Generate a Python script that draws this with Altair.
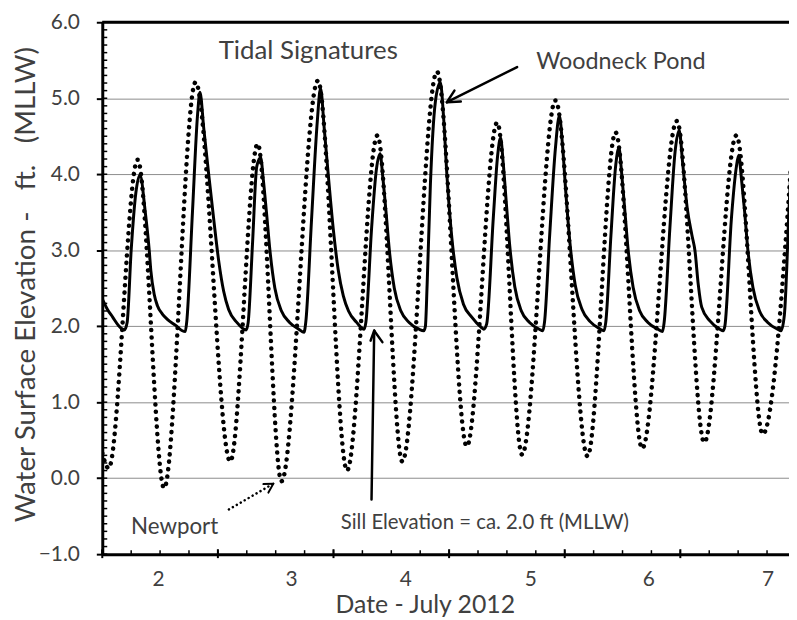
import altair as alt
import pandas as pd

# ---- data ----
# Newport tide (dotted), time in days of July 2012
nep_t = [2.000, 2.055, 2.306, 2.535, 2.807, 3.107, 3.344, 3.550, 3.865, 4.117, 4.380, 4.595,
         4.895, 5.153, 5.416, 5.631, 5.920, 6.197, 6.440, 6.670, 6.970, 7.207, 7.485, 7.713, 7.957]
nep_v = [0.33, 0.13, 4.19, -0.13, 5.21, 0.22, 4.40, -0.04, 5.23, 0.10, 4.51, 0.22,
         5.35, 0.42, 4.68, 0.31, 4.97, 0.29, 4.55, 0.39, 4.70, 0.47, 4.51, 0.58, 4.10]

# Woodneck Pond (solid)
wood_t = [2.000, 2.045, 2.090, 2.140, 2.191,
          2.215, 2.250, 2.290, 2.326,
          2.372, 2.406, 2.420, 2.449, 2.477, 2.520, 2.563, 2.635, 2.692, 2.718,
          2.730, 2.780, 2.825, 2.845,
          2.878, 2.921, 2.966, 3.007, 3.050, 3.093, 3.164, 3.245,
          3.262, 3.300, 3.336, 3.370,
          3.393, 3.420, 3.450, 3.493, 3.550, 3.620, 3.700, 3.745,
          3.760, 3.810, 3.860, 3.888,
          3.920, 3.960, 4.000, 4.040, 4.085, 4.130, 4.200, 4.266,
          4.280, 4.330, 4.370, 4.403,
          4.426, 4.454, 4.483, 4.526, 4.583, 4.654, 4.740, 4.781,
          4.795, 4.810, 4.838, 4.881, 4.924,
          4.953, 4.981, 5.024, 5.067, 5.124, 5.196, 5.282, 5.300,
          5.325, 5.382, 5.420, 5.445,
          5.468, 5.496, 5.525, 5.568, 5.625, 5.696, 5.780, 5.811,
          5.825, 5.870, 5.920, 5.954,
          5.980, 6.010, 6.045, 6.090, 6.150, 6.220, 6.300, 6.340,
          6.355, 6.400, 6.440, 6.469,
          6.492, 6.520, 6.549, 6.592, 6.649, 6.720, 6.806, 6.846,
          6.860, 6.910, 6.955, 6.990,
          7.020, 7.060, 7.100, 7.127, 7.155, 7.185, 7.256, 7.342, 7.370,
          7.385, 7.442, 7.485, 7.505,
          7.528, 7.556, 7.585, 7.628, 7.685, 7.756, 7.842, 7.871,
          7.900, 7.943, 7.957]
wood_v = [2.36, 2.22, 2.12, 2.01, 1.95,
          2.05, 3.00, 3.75, 3.99,
          3.50, 3.00, 2.73, 2.42, 2.27, 2.16, 2.09, 2.01, 1.94, 1.93,
          2.05, 3.50, 4.80, 5.08,
          4.60, 3.99, 3.38, 2.86, 2.46, 2.22, 2.05, 1.95,
          2.05, 3.10, 4.10, 4.22,
          3.93, 3.50, 3.00, 2.50, 2.20, 2.05, 1.96, 1.92,
          2.05, 3.40, 4.70, 5.13,
          4.60, 3.90, 3.25, 2.75, 2.40, 2.20, 2.05, 1.96,
          2.05, 3.30, 4.05, 4.27,
          3.97, 3.51, 3.00, 2.50, 2.20, 2.05, 1.96, 1.94,
          2.00, 2.55, 3.86, 4.95, 5.21,
          4.73, 3.99, 3.16, 2.64, 2.29, 2.12, 1.98, 1.96,
          2.03, 3.42, 4.25, 4.48,
          4.15, 3.60, 3.05, 2.52, 2.20, 2.05, 1.96, 1.94,
          2.05, 3.20, 4.35, 4.77,
          4.40, 3.75, 3.10, 2.55, 2.22, 2.06, 1.97, 1.94,
          2.05, 3.20, 4.10, 4.35,
          4.02, 3.52, 3.00, 2.51, 2.20, 2.05, 1.96, 1.93,
          2.05, 3.30, 4.30, 4.58,
          4.15, 3.55, 3.20, 2.99, 2.55, 2.25, 2.07, 1.96, 1.94,
          2.00, 3.42, 4.10, 4.25,
          3.95, 3.51, 2.99, 2.51, 2.20, 2.05, 1.96, 1.94,
          2.15, 3.64, 4.08]

# axis values
y_major = [-1, 0, 1, 2, 3, 4, 5, 6]
y_minor = [round(-1 + 0.1 * i, 1) for i in range(71)]
x_major = [2, 3, 4, 5, 6, 7]
x_minor = [2 + 0.25 * i for i in range(24)]
x_label_pos = [2.483, 3.633, 4.621, 5.703, 6.724, 7.754]   # where the day labels sit

# annotations
title_text = ["Tidal Signatures"]
title_t = [3.007]
title_v = [5.51]
pond_text = ["Woodneck Pond"]
pond_t = [5.754]
pond_v = [5.383]
newport_text = ["Newport"]
newport_t = [2.249]
newport_v = [-0.739]
sill_text = ["Sill Elevation = ca. 2.0 ft (MLLW)"]
sill_t = [4.063]
sill_v = [-0.673]

# solid arrows: shaft + barbs (t, v, t2, v2)
arr_t = [5.588, 4.981, 4.981, 4.329, 4.352, 4.352]
arr_v = [5.409, 4.948, 4.948, -0.281, 1.941, 1.941]
arr_t2 = [4.981, 5.101, 5.046, 4.352, 4.321, 4.423]
arr_v2 = [4.948, 4.957, 5.101, 1.941, 1.81, 1.79]
# dotted arrow (Newport)
darr_t = [3.095]
darr_v = [-0.412]
darr_t2 = [3.480]
darr_v2 = [-0.072]
dbarb_t = [3.480, 3.480]
dbarb_v = [-0.072, -0.072]
dbarb_t2 = [3.394, 3.437]
dbarb_v2 = [-0.078, -0.19]

# ---- build chart ----
FONT = "Lato"
TXT = "#404040"
W, H = 692, 536
NB = "\u00a0"

xs = alt.Scale(domain=[2.0, 7.94], nice=False, zero=False)
ys = alt.Scale(domain=[-1, 6], nice=False, zero=False)

x_axis = alt.Axis(values=x_label_pos, labelExpr="format(floor(datum.value), 'd')",
                  ticks=False, tickSize=0, grid=False, domainColor="black", domainWidth=3,
                  labelPadding=15, labelFont=FONT, labelFontSize=21, labelColor=TXT,
                  labelFlush=False, labelOverlap=False,
                  title="Date - July 2012", titleFont=FONT, titleFontSize=25,
                  titleFontWeight="normal", titleColor=TXT, titleX=325, titleY=59,
                  titleAlign="center", titleBaseline="alphabetic")
y_axis = alt.Axis(values=y_major, format=".1f", tickSize=6, tickColor="black", tickWidth=2,
                  domainColor="black", domainWidth=3, grid=True, gridColor="#8c8c8c",
                  gridWidth=1, labelPadding=17, labelFont=FONT, labelFontSize=21,
                  labelColor=TXT, labelFlush=False,
                  title="Water Surface Elevation -" + NB * 3 + "ft." + NB * 3 + "(MLLW)",
                  titleFont=FONT, titleFontSize=28, titleFontWeight="normal", titleColor=TXT,
                  titleX=-68, titleY=264, titleAngle=270, titleAlign="center",
                  titleBaseline="alphabetic")

X = alt.X("t:Q", scale=xs, axis=x_axis)
Y = alt.Y("v:Q", scale=ys, axis=y_axis)

nep_df = pd.DataFrame({"t": nep_t, "v": nep_v})
wood_df = pd.DataFrame({"t": wood_t, "v": wood_v})

newport = alt.Chart(nep_df).mark_line(
    color="black", strokeWidth=4.5, strokeDash=[0.1, 7.4], strokeCap="round",
    interpolate="monotone", clip=True).encode(x=X, y=Y)
wood = alt.Chart(wood_df).mark_line(
    color="black", strokeWidth=3, interpolate="monotone", clip=True).encode(x=X, y=Y)

top = alt.Chart(pd.DataFrame({"v": [6.0]})).mark_rule(color="black", strokeWidth=3).encode(y=Y)

yminor = alt.Chart(pd.DataFrame({"v": y_minor})).mark_rule(color="black", strokeWidth=1.5).encode(
    y=Y, x=alt.value(0), x2=alt.value(5))
xminor = alt.Chart(pd.DataFrame({"t": x_minor})).mark_rule(color="black", strokeWidth=1.5).encode(
    x=X, y=alt.value(H - 4), y2=alt.value(H))
xmajor = alt.Chart(pd.DataFrame({"t": x_major})).mark_rule(color="black", strokeWidth=2).encode(
    x=X, y=alt.value(H - 5), y2=alt.value(H + 4))


def label_layer(texts, ts, vs, size):
    df = pd.DataFrame({"t": ts, "v": vs, "label": texts})
    return alt.Chart(df).mark_text(
        align="left", baseline="alphabetic", font=FONT, fontSize=size, color=TXT).encode(
        x=X, y=Y, text="label:N")


t_title = label_layer(title_text, title_t, title_v, 26)
t_pond = label_layer(pond_text, pond_t, pond_v, 23.5)
t_newport = label_layer(newport_text, newport_t, newport_v, 22.5)
t_sill = label_layer(sill_text, sill_t, sill_v, 20.5)

arrows = alt.Chart(pd.DataFrame({"t": arr_t, "v": arr_v, "t2": arr_t2, "v2": arr_v2})).mark_rule(
    color="black", strokeWidth=2.5, strokeCap="round").encode(
    x=X, y=Y, x2=alt.X2("t2:Q"), y2=alt.Y2("v2:Q"))
darrow = alt.Chart(pd.DataFrame({"t": darr_t, "v": darr_v, "t2": darr_t2, "v2": darr_v2})).mark_rule(
    color="black", strokeWidth=2.5, strokeDash=[0.1, 4.5], strokeCap="round").encode(
    x=X, y=Y, x2=alt.X2("t2:Q"), y2=alt.Y2("v2:Q"))
dbarbs = alt.Chart(pd.DataFrame({"t": dbarb_t, "v": dbarb_v, "t2": dbarb_t2, "v2": dbarb_v2})).mark_rule(
    color="black", strokeWidth=2, strokeCap="round").encode(
    x=X, y=Y, x2=alt.X2("t2:Q"), y2=alt.Y2("v2:Q"))

chart = alt.layer(newport, wood, top, yminor, xminor, xmajor,
                  t_title, t_pond, t_newport, t_sill, arrows, darrow, dbarbs).properties(
    width=W, height=H,
    padding={"left": 95, "top": 12, "right": 0, "bottom": 64},
    autosize=alt.AutoSizeParams(type="none"),
).configure_view(stroke=None)

chart.save("out.html", embed_options={"renderer": "svg", "actions": False})
